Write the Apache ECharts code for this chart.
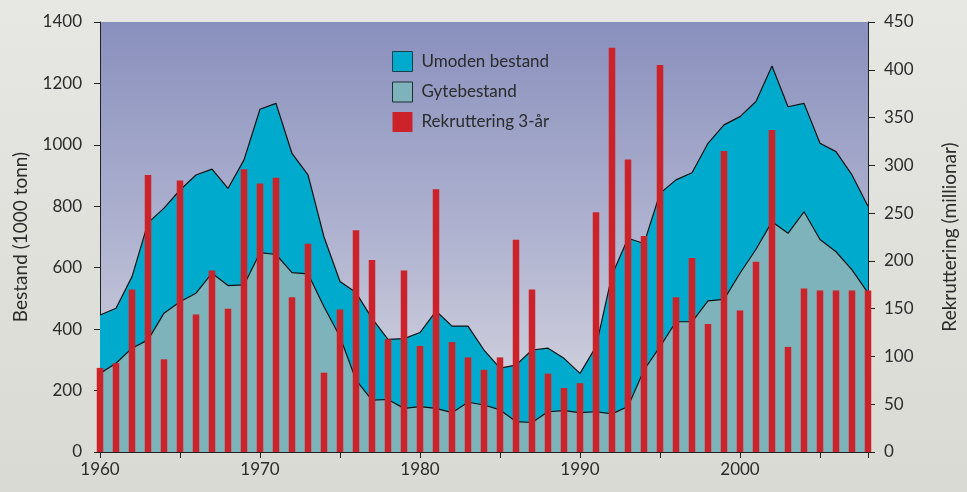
<!DOCTYPE html>
<html>
<head>
<meta charset="utf-8">
<script src="https://cdn.jsdelivr.net/npm/echarts@6/dist/echarts.min.js"></script>
<style>
  html, body { margin: 0; padding: 0; }
  #chart { width: 967px; height: 492px; }
</style>
</head>
<body>
<div id="chart"></div>
<script>
const years = []
for (let y = 1960; y <= 2008; y++) years.push(y)

// total bestand (umoden + gyte), 1000 tonn
const umoden = [446, 468, 571, 746, 794, 853, 902, 921, 858, 951,
  1116, 1135, 972, 902, 700, 555, 519, 435, 367, 369,
  389, 459, 410, 410, 332, 273, 283, 332, 338, 305,
  256, 343, 576, 696, 679, 842, 886, 909, 1005, 1065,
  1092, 1141, 1257, 1124, 1135, 1005, 978, 902, 800]

// gytebestand, 1000 tonn
const gyte = [256, 289, 338, 365, 452, 489, 517, 582, 542, 544,
  649, 643, 584, 580, 473, 375, 234, 169, 171, 142,
  148, 142, 128, 162, 153, 137, 99, 96, 131, 135,
  128, 131, 124, 148, 267, 343, 424, 424, 492, 497,
  582, 660, 750, 712, 782, 692, 652, 593, 518]

// rekruttering 3-år, millionar
const rekrutt = [88, 93, 170, 290, 97, 284, 144, 190, 150, 296,
  281, 287, 162, 218, 83, 149, 232, 201, 118, 190,
  111, 275, 115, 99, 86, 99, 222, 170, 82, 67,
  72, 251, 423, 306, 226, 405, 162, 203, 134, 315,
  148, 199, 337, 110, 171, 169, 169, 169, 169]

const pair = (vals) => years.map((y, i) => [y, vals[i]])

const font = 'Lato, "Open Sans", sans-serif'
const textColor = '#2b2b2b'

const chart = echarts.init(document.getElementById('chart'), null, { renderer: 'canvas' })

chart.setOption({
  animation: false,
  backgroundColor: {
    type: 'linear', x: 0, y: 0, x2: 0, y2: 1,
    colorStops: [{ offset: 0, color: '#e7e7e3' }, { offset: 1, color: '#dadad4' }]
  },
  textStyle: { fontFamily: font },
  grid: {
    left: 100, right: 94, top: 22, bottom: 40,
    show: true, borderWidth: 0,
    backgroundColor: {
      type: 'linear', x: 0, y: 0, x2: 0, y2: 1,
      colorStops: [
        { offset: 0, color: '#8990bd' },
        { offset: 0.5, color: '#b0b3d0' },
        { offset: 1, color: '#dcdce2' }
      ]
    }
  },
  legend: {
    orient: 'vertical',
    left: 387, top: 46,
    itemWidth: 20, itemHeight: 20, itemGap: 9.5,
    textStyle: { fontSize: 17, color: textColor, fontFamily: font, padding: [0, 0, 0, 4] },
    data: [
      { name: 'Umoden bestand', icon: 'rect', itemStyle: { color: '#00aacc', borderColor: '#17404c', borderWidth: 1 } },
      { name: 'Gytebestand', icon: 'rect', itemStyle: { color: '#7fb3bb', borderColor: '#1e2f33', borderWidth: 1 } },
      { name: 'Rekruttering 3-år', icon: 'rect', itemStyle: { color: '#cc2229', borderWidth: 0 } }
    ]
  },
  xAxis: {
    type: 'value', min: 1960, max: 2008, interval: 5,
    axisLine: { lineStyle: { color: '#222', width: 1 } },
    axisTick: { length: 6, lineStyle: { color: '#222' } },
    splitLine: { show: false },
    axisLabel: {
      margin: 9, fontSize: 17, color: textColor, fontFamily: font,
      formatter: (v) => (v % 10 === 0 ? String(v) : '')
    }
  },
  yAxis: [
    {
      type: 'value', min: 0, max: 1400, interval: 200,
      name: 'Bestand (1000 tonn)', nameLocation: 'middle', nameRotate: 90, nameGap: 70,
      nameTextStyle: { fontSize: 19, color: textColor, fontFamily: font },
      axisLine: { show: true, lineStyle: { color: '#222', width: 1 } },
      axisTick: { show: true, length: 6, lineStyle: { color: '#222' } },
      splitLine: { show: false },
      axisLabel: { margin: 18, fontSize: 17, color: textColor, fontFamily: font, formatter: (v) => String(v) }
    },
    {
      type: 'value', min: 0, max: 450, interval: 50, position: 'right',
      name: 'Rekruttering (millionar)', nameLocation: 'middle', nameRotate: 90, nameGap: 72,
      nameTextStyle: { fontSize: 19, color: textColor, fontFamily: font },
      axisLine: { show: true, lineStyle: { color: '#222', width: 1 } },
      axisTick: { show: true, length: 7, lineStyle: { color: '#222' } },
      splitLine: { show: false },
      axisLabel: { margin: 16, fontSize: 17, color: textColor, fontFamily: font, formatter: (v) => String(v) }
    }
  ],
  series: [
    {
      name: 'Umoden bestand', type: 'line', data: pair(umoden),
      showSymbol: false, z: 1,
      lineStyle: { color: '#111', width: 1.2 },
      itemStyle: { color: '#00aacc' },
      areaStyle: { color: '#00aacc', opacity: 1 }
    },
    {
      name: 'Gytebestand', type: 'line', data: pair(gyte),
      showSymbol: false, z: 2,
      lineStyle: { color: '#111', width: 1.2 },
      itemStyle: { color: '#7fb3bb' },
      areaStyle: { color: '#7fb3bb', opacity: 1 }
    },
    {
      name: 'Rekruttering 3-år', type: 'bar', yAxisIndex: 1, data: pair(rekrutt),
      barWidth: 6.5, z: 3, clip: true,
      itemStyle: { color: '#cc2229' }
    }
  ]
})
</script>
</body>
</html>
